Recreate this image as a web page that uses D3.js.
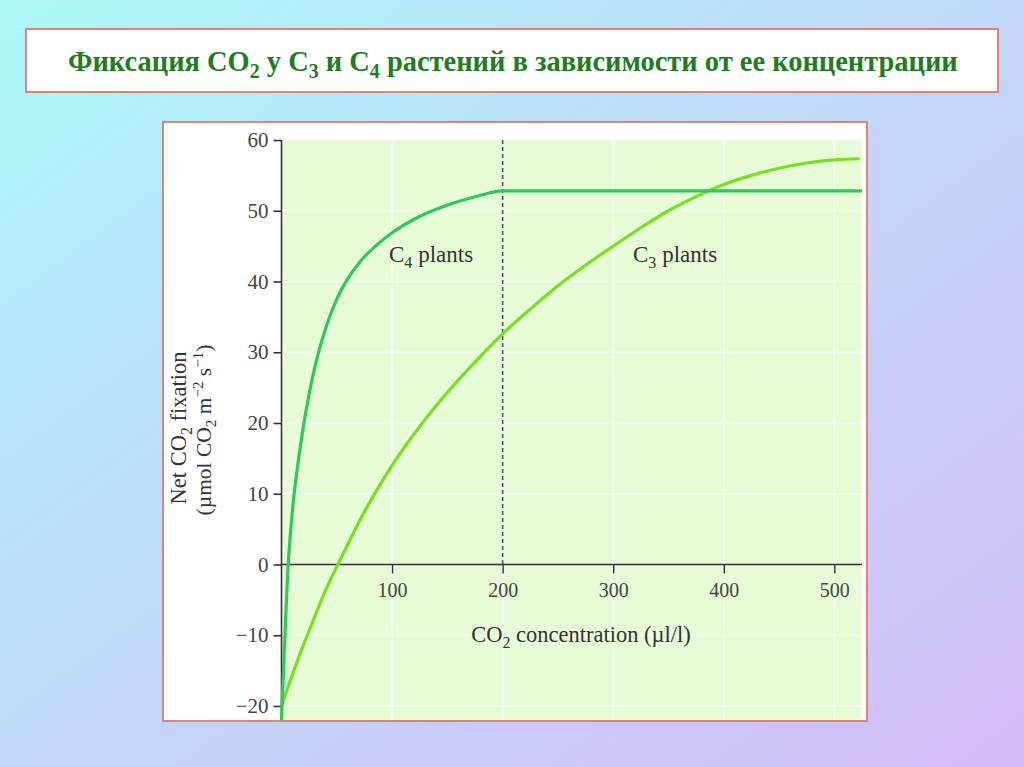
<!DOCTYPE html>
<html><head><meta charset="utf-8">
<script src="https://cdn.jsdelivr.net/npm/d3@7"></script>
<style>html,body{margin:0;padding:0;overflow:hidden;}svg{display:block;}</style>
</head><body>
<svg id="c" width="1024" height="767"></svg>
<script>
// ---- data ----
const xTicks = [100, 200, 300, 400, 500];
const yTicks = [-20, -10, 0, 10, 20, 30, 40, 50, 60];
const c4X = [0, 1.5, 3, 4.5, 5.5, 8, 10.5, 15, 20, 25, 30, 40, 50, 60, 71, 85, 101, 120, 140, 160, 180, 200, 525];
const c4Y = [-22, -16.2, -10.6, -5, -1.5, 4.2, 8.6, 14.4, 19.7, 24.1, 27.8, 33.4, 37.5, 40.4, 42.8, 45, 47, 48.8, 50.2, 51.3, 52.2, 52.8, 52.8];
const c3X = [0, 10, 20, 30, 40, 51, 62, 71, 85, 100, 125, 150, 175, 200, 225, 250, 275, 301, 325, 350, 375, 400, 425, 450, 475, 500, 523];
const c3Y = [-20, -15.5, -11.3, -7.4, -3.6, 0, 3.5, 6.3, 10.2, 14, 19.5, 24.3, 28.6, 32.6, 36.1, 39.4, 42.3, 45.1, 47.6, 50, 52, 53.7, 55, 56, 56.75, 57.2, 57.35];
const dashX = 200;
const titleParts = [["Фиксация CO",""],["2","sub"],[" у C",""],["3","sub"],[" и C",""],["4","sub"],[" растений в зависимости от ее концентрации",""]];

const svg = d3.select("#c");
const defs = svg.append("defs");
const g = defs.append("linearGradient").attr("id","bg").attr("x1","0").attr("y1","0").attr("x2","1").attr("y2","1");
g.append("stop").attr("offset","0").attr("stop-color","#acf9f8");
g.append("stop").attr("offset","0.5").attr("stop-color","#c2d8f8");
g.append("stop").attr("offset","1").attr("stop-color","#d4bcf8");
svg.append("rect").attr("width",1024).attr("height",767).attr("fill","url(#bg)");

// title box
svg.append("rect").attr("x",26).attr("y",29).attr("width",972).attr("height",63)
  .attr("fill","#fff").attr("stroke","#e07868").attr("stroke-width",1.8);
const tt = svg.append("text").attr("x",0).attr("y",71)
  .attr("font-family","'Liberation Serif','Times New Roman',serif").attr("font-weight","bold")
  .attr("font-size",30).attr("fill","#1e7d1e");
titleParts.forEach((p,i)=>{
  const s = tt.append("tspan").text(p[0]);
  if(p[1]==="sub"){ s.attr("font-size",21).attr("dy",7); }
  else if(i>0){ s.attr("dy",-7); }
});
{
  const bb = tt.node().getBBox();
  const sx = 890/bb.width;
  tt.attr("transform",`translate(68,0) scale(${sx},1)`);
}

// chart box
svg.append("rect").attr("x",163).attr("y",122).attr("width",704).attr("height",599)
  .attr("fill","#fff").attr("stroke","#e07868").attr("stroke-width",1.8);

const x = d3.scaleLinear().domain([0,525]).range([281.5,862]);
const y = d3.scaleLinear().domain([-20,60]).range([706,140]);

// plot background
svg.append("rect").attr("x",x(0)).attr("y",y(60)).attr("width",x(525)-x(0)).attr("height",720-y(60))
  .attr("fill","#e7fbd7");
// faint grid
svg.append("g").selectAll("line").data(xTicks).join("line")
  .attr("x1",d=>x(d)).attr("x2",d=>x(d)).attr("y1",y(60)).attr("y2",720)
  .attr("stroke","#f2fdea").attr("stroke-width",2);
svg.append("g").selectAll("line").data(yTicks.filter(d=>d!==0)).join("line")
  .attr("x1",x(0)).attr("x2",x(525)).attr("y1",d=>y(d)).attr("y2",d=>y(d))
  .attr("stroke","#f2fdea").attr("stroke-width",2);

const font = "'Liberation Serif','Times New Roman',serif";
// y axis
const ya = svg.append("g").attr("transform",`translate(${x(0)},0)`)
  .call(d3.axisLeft(y).tickValues(yTicks).tickSize(8).tickPadding(5).tickFormat(d=>d<0?"\u2212"+Math.abs(d):d));
ya.select(".domain").attr("d",`M0,${y(60)}V720`).attr("stroke","#333").attr("stroke-width",1.6);
ya.selectAll(".tick line").attr("stroke","#333").attr("stroke-width",1.6);
ya.selectAll(".tick text").attr("font-family",font).attr("font-size",21).attr("fill","#444");

// x axis at y=0
const xa = svg.append("g").attr("transform",`translate(0,${y(0)})`)
  .call(d3.axisBottom(x).tickValues(xTicks).tickSize(9).tickPadding(9));
xa.select(".domain").attr("d",`M${x(0)},0H${x(525)}`).attr("stroke","#333").attr("stroke-width",1.6);
xa.selectAll(".tick line").attr("stroke","#333").attr("stroke-width",1.4);
xa.selectAll(".tick text").attr("font-family",font).attr("font-size",20).attr("fill","#444");

// dashed line
svg.append("line").attr("x1",x(dashX)).attr("x2",x(dashX)).attr("y1",y(60)).attr("y2",y(0))
  .attr("stroke","#555").attr("stroke-width",1.6).attr("stroke-dasharray","4,3");

// curves
const line = d3.line().x(d=>x(d[0])).y(d=>y(d[1])).curve(d3.curveMonotoneX);
svg.append("path").datum(c3X.map((v,i)=>[v,c3Y[i]])).attr("d",line)
  .attr("fill","none").attr("stroke","#76e21e").attr("stroke-width",3.2);
svg.append("path").datum(c4X.map((v,i)=>[v,c4Y[i]])).attr("d",line)
  .attr("fill","none").attr("stroke","#2ccb58").attr("stroke-width",3.2);

// labels
function subText(sel, parts, size){
  parts.forEach((p,i)=>{
    const s = sel.append("tspan").text(p[0]);
    if(p[1]==="sub") s.attr("font-size",size*0.7).attr("dy",size*0.25);
    else if(p[1]==="sup") s.attr("font-size",size*0.7).attr("dy",-size*0.38);
    else if(i>0 && parts[i-1][1]==="sub") s.attr("dy",-size*0.25);
    else if(i>0 && parts[i-1][1]==="sup") s.attr("dy",size*0.38);
  });
}
const lab = svg.append("g").attr("font-family",font).attr("fill","#333");
subText(lab.append("text").attr("x",389).attr("y",262).attr("font-size",23), [["C",""],["4","sub"],[" plants",""]], 23);
subText(lab.append("text").attr("x",633).attr("y",262).attr("font-size",23), [["C",""],["3","sub"],[" plants",""]], 23);
subText(lab.append("text").attr("x",581).attr("y",642).attr("text-anchor","middle").attr("font-size",22.5),
  [["CO",""],["2","sub"],[" concentration (\u00b5l/l)",""]], 22.5);
subText(lab.append("text").attr("transform","translate(186,428) rotate(-90)").attr("text-anchor","middle").attr("font-size",22.5),
  [["Net CO",""],["2","sub"],[" fixation",""]], 22.5);
subText(lab.append("text").attr("transform","translate(211,430) rotate(-90)").attr("text-anchor","middle").attr("font-size",21.5),
  [["(\u00b5mol CO",""],["2","sub"],[" m",""],["\u22122","sup"],[" s",""],["\u22121","sup"],[")",""]], 21.5);
</script>
</body></html>
